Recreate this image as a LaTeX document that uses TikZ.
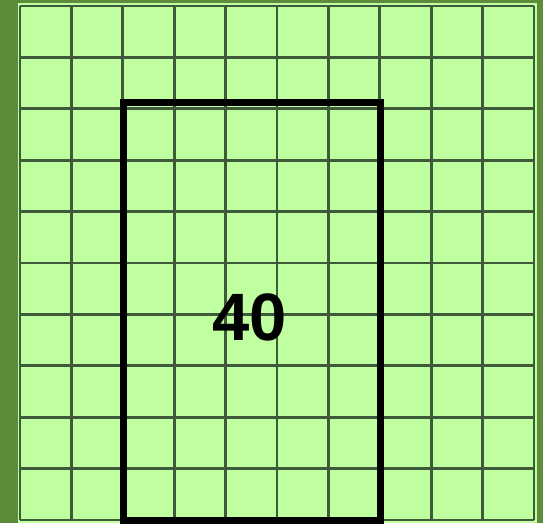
\documentclass[tikz,border=0pt]{standalone}
\usepackage{fontspec}
\setmainfont{Liberation Sans}
\definecolor{bgdark}{HTML}{5C8C3A}
\definecolor{cellfill}{HTML}{C0FFA0}
\definecolor{gridline}{HTML}{3E5A3A}
\tikzset{
  gridstroke/.style={draw=gridline, line width=2.8pt},
  outline/.style={draw=black, line width=7pt},
  bigtext/.style={font=\fontsize{67}{67}\selectfont\bfseries, text=black, inner sep=0pt}
}
\begin{document}
\begin{tikzpicture}[x=1pt,y=-1pt]
\useasboundingbox (0,0) rectangle (543,523);
\fill[bgdark] (0,0) rectangle (543,523);
\fill[cellfill] (18,2.5) rectangle (537,523);
\foreach \i in {0,...,10}{
  \draw[gridstroke] ({20+51.4*\i},6) -- ({20+51.4*\i},520);
  \draw[gridstroke] (20,{6+51.4*\i}) -- (534,{6+51.4*\i});
}
\draw[outline] (123.5,102.5) rectangle (380.5,520.5);
\node[bigtext] (label) at (250,317) {40};
\end{tikzpicture}
\end{document}
